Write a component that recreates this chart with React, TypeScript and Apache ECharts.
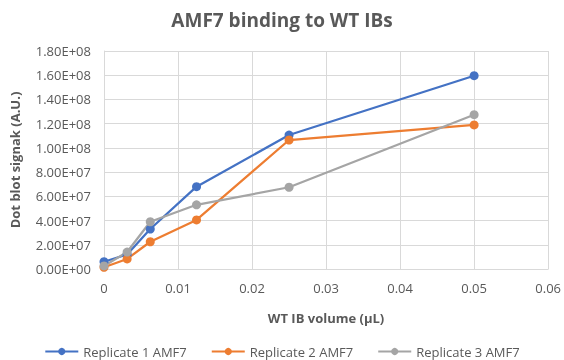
import React, { useEffect, useRef } from "react";
import * as echarts from "echarts";

const xValues = [0, 0.003125, 0.00625, 0.0125, 0.025, 0.05];
const rep1 = [6.0e6, 1.2e7, 3.3e7, 6.8e7, 1.106e8, 1.596e8];
const rep2 = [1.4e6, 8.3e6, 2.25e7, 4.05e7, 1.065e8, 1.19e8];
const rep3 = [2.5e6, 1.4e7, 3.9e7, 5.3e7, 6.75e7, 1.274e8];
const seriesNames = ["Replicate 1 AMF7", "Replicate 2 AMF7", "Replicate 3 AMF7"];
const colors = ["#4472C4", "#ED7D31", "#A5A5A5"];

const font = "Open Sans";
const textColor = "#595959";

export default function App() {
  const ref = useRef<HTMLDivElement>(null);
  useEffect(() => {
    if (!ref.current) return;
    const chart = echarts.init(ref.current, null, { renderer: "svg" });
    const data = [rep1, rep2, rep3];
    chart.setOption({
      animation: false,
      title: {
        text: "AMF7 binding to WT IBs",
        left: "center",
        top: 5,
        textStyle: { fontFamily: font, fontSize: 19, fontWeight: "bold", color: textColor },
      },
      grid: { left: 100, right: 15, top: 51, bottom: 91 },
      legend: {
        top: 340,
        left: "center",
        itemGap: 24,
        itemWidth: 33,
        itemHeight: 9,
        textStyle: { fontFamily: font, fontSize: 13, color: textColor },
        data: seriesNames,
      },
      xAxis: {
        type: "value",
        min: 0,
        max: 0.06,
        interval: 0.01,
        name: "WT IB volume (µL)",
        nameLocation: "middle",
        nameGap: 42,
        nameTextStyle: { fontFamily: font, fontSize: 13, fontWeight: "bold", color: textColor },
        axisLine: { show: true, lineStyle: { color: "#d9d9d9" } },
        axisTick: { show: false },
        axisLabel: { fontFamily: font, fontSize: 13, color: textColor, margin: 12 },
        splitLine: { show: true, lineStyle: { color: "#d9d9d9" } },
      },
      yAxis: {
        type: "value",
        min: 0,
        max: 1.8e8,
        interval: 2e7,
        name: "Dot blot signak (A.U.)",
        nameLocation: "middle",
        nameGap: 83,
        nameTextStyle: { fontFamily: font, fontSize: 13, fontWeight: "bold", color: textColor },
        axisLine: { show: true, lineStyle: { color: "#d9d9d9" } },
        axisTick: { show: false },
        axisLabel: {
          fontFamily: font,
          fontSize: 13,
          color: textColor,
          margin: 13,
          formatter: (v: number) => {
            const s = v.toExponential(2).toUpperCase();
            const m = s.match(/^(.*)E([+-])(\d+)$/);
            if (!m) return s;
            return `${m[1]}E${m[2]}${m[3].padStart(2, "0")}`;
          },
        },
        splitLine: { show: true, lineStyle: { color: "#d9d9d9" } },
      },
      series: seriesNames.map((name, i) => ({
        name,
        type: "line",
        data: xValues.map((x, j) => [x, data[i][j]]),
        symbol: "circle",
        symbolSize: 9,
        lineStyle: { color: colors[i], width: 2.25 },
        itemStyle: { color: colors[i] },
      })),
    });
    return () => chart.dispose();
  }, []);
  return (
    <div
      ref={ref}
      style={{ position: "fixed", left: 0, top: 0, width: 564, height: 360 }}
    />
  );
}
